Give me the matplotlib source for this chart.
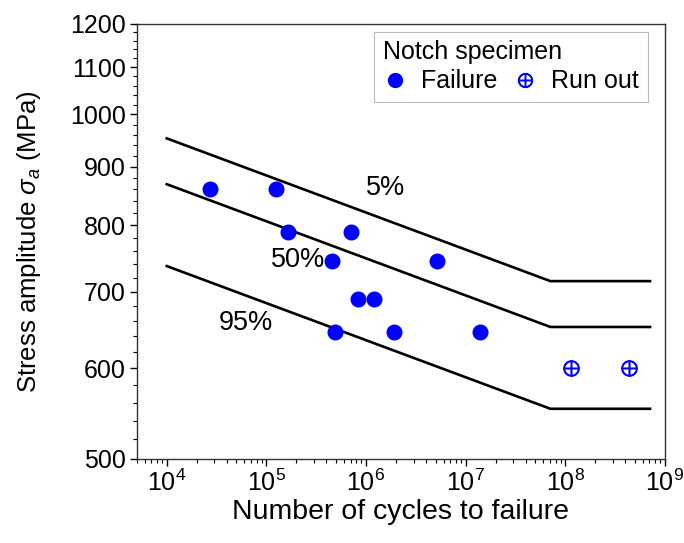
import numpy as np
import matplotlib
matplotlib.use('Agg')
import matplotlib.pyplot as plt
from matplotlib.ticker import FixedLocator, NullFormatter, LogLocator
from matplotlib.lines import Line2D

plt.rcParams['font.family'] = ['Liberation Sans', 'DejaVu Sans']
plt.rcParams['mathtext.fontset'] = 'custom'
plt.rcParams['mathtext.rm'] = 'Liberation Sans'
plt.rcParams['mathtext.it'] = 'Liberation Sans:italic'

# failure data
fail_cycles = [2.7e4, 1.25e5, 1.65e5, 7.1e5, 4.55e5, 5.2e6, 8.3e5, 1.2e6, 4.9e5, 1.9e6, 1.4e7]
fail_stress = [860, 860, 790, 790, 745, 745, 690, 690, 645, 645, 645]
# run out data
runout_cycles = [1.15e8, 4.4e8]
runout_stress = [600, 600]

# S-N curves (start, knee, end)
curve_cycles = [1e4, 7.1e7, 7.1e8]
curve_5 = [953, 715, 715]
curve_50 = [869, 652, 652]
curve_95 = [737, 553, 553]
curve_labels = ['5%', '50%', '95%']
label_pos = [(1.58e6, 863), (2.07e5, 746), (6.2e4, 657)]

fig = plt.figure(figsize=(6.84, 5.43), dpi=100)
ax = fig.add_axes([0.2, 0.155, 0.772, 0.801])

for ys in (curve_5, curve_50, curve_95):
    ax.plot(curve_cycles, ys, color='black', lw=1.9)

for txt, (x, y) in zip(curve_labels, label_pos):
    ax.text(x, y, txt, fontsize=19.5, ha='center', va='center')

ax.plot(fail_cycles, fail_stress, 'o', color='blue', ms=10.5, ls='none')
ax.plot(runout_cycles, runout_stress, marker=r'$\oplus$', color='blue', ms=11, ls='none')

ax.set_xscale('log')
ax.set_yscale('log')
ax.set_xlim(5e3, 1e9)
ax.set_ylim(500, 1200)

yt = [500, 600, 700, 800, 900, 1000, 1100, 1200]
ax.yaxis.set_major_locator(FixedLocator(yt))
ax.set_yticklabels([str(v) for v in yt])
ax.yaxis.set_minor_locator(FixedLocator(list(range(500, 1201, 20))))
ax.yaxis.set_minor_formatter(NullFormatter())
ax.xaxis.set_major_locator(LogLocator(base=10, numticks=20))
ax.xaxis.set_minor_locator(LogLocator(base=10, subs=np.arange(2, 10), numticks=20))
ax.xaxis.set_minor_formatter(NullFormatter())

ax.tick_params(which='major', direction='out', length=5, width=1, labelsize=18, pad=3)
ax.tick_params(which='minor', direction='out', length=3, width=0.8)
for s in ax.spines.values():
    s.set_linewidth(1)
    s.set_color('#333333')

ax.set_xlabel('Number of cycles to failure', fontsize=20.5, labelpad=2)
ax.set_ylabel(r'Stress amplitude $\sigma_a$ (MPa)', fontsize=18.5)
ax.yaxis.set_label_coords(-0.178, 0.5)

h1 = Line2D([], [], marker='o', color='blue', ms=10, ls='none')
h2 = Line2D([], [], marker=r'$\oplus$', color='blue', ms=10, ls='none')
leg = ax.legend([h1, h2], ['Failure', 'Run out'], title='Notch specimen', ncol=2,
                loc='upper right', bbox_to_anchor=(0.968, 0.982), fontsize=18, title_fontsize=18,
                frameon=True, fancybox=False, edgecolor='#aaaaaa', handletextpad=0.55,
                columnspacing=0.6, handlelength=1.0, borderpad=0.35, labelspacing=0.2,
                borderaxespad=0.0)
leg.get_frame().set_linewidth(0.8)
leg._legend_box.align = 'left'

fig.savefig('out.png', dpi=100)
